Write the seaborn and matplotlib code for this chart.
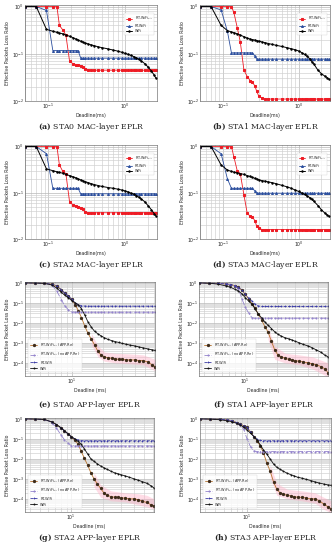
import matplotlib
matplotlib.use("Agg")
import matplotlib.pyplot as plt
import seaborn as sns
from matplotlib.ticker import NullFormatter, LogLocator

# ---------------- MAC-layer data (panels a-d) ----------------
mac_deadline = [0.05, 0.07, 0.095, 0.115, 0.13, 0.14, 0.155, 0.17, 0.19, 0.21,
                0.23, 0.245, 0.265, 0.28, 0.3, 0.33, 0.36, 0.4, 0.45, 0.5,
                0.6, 0.7, 0.8, 0.9, 1.0, 1.1, 1.2, 1.3, 1.4, 1.5,
                1.6, 1.8, 2.0, 2.2, 2.4, 2.5]

sta0_mac_rt_sa = [1, 1, 1, 1, 1, 0.40, 0.32, 0.25, 0.069, 0.062,
                  0.059, 0.059, 0.056, 0.053, 0.048, 0.046, 0.045, 0.045, 0.045, 0.045,
                  0.045, 0.045, 0.045, 0.045, 0.045, 0.045, 0.045, 0.045, 0.045, 0.045,
                  0.045, 0.045, 0.045, 0.045, 0.045, 0.045]
sta0_mac_rt = [1, 1, 0.83, 0.117, 0.117, 0.117, 0.117, 0.117, 0.117, 0.117,
               0.117, 0.117, 0.081, 0.081, 0.081, 0.081, 0.081, 0.081, 0.081, 0.081,
               0.081, 0.081, 0.081, 0.081, 0.081, 0.081, 0.081, 0.081, 0.081, 0.081,
               0.081, 0.081, 0.081, 0.081, 0.081, 0.081]
sta0_mac_wifi = [1, 1, 0.33, 0.30, 0.285, 0.275, 0.265, 0.25, 0.235, 0.22,
                 0.205, 0.195, 0.185, 0.178, 0.17, 0.162, 0.155, 0.148, 0.14, 0.135,
                 0.127, 0.12, 0.114, 0.108, 0.102, 0.097, 0.092, 0.087, 0.082, 0.077,
                 0.072, 0.062, 0.052, 0.043, 0.035, 0.031]

sta1_mac_rt_sa = [1, 1, 1, 1, 1, 0.75, 0.36, 0.18, 0.045, 0.033,
                  0.027, 0.025, 0.021, 0.016, 0.0125, 0.0115, 0.011, 0.011, 0.011, 0.011,
                  0.011, 0.011, 0.011, 0.011, 0.011, 0.011, 0.011, 0.011, 0.011, 0.011,
                  0.011, 0.011, 0.011, 0.011, 0.011, 0.011]
sta1_mac_rt = [1, 1, 0.85, 0.3, 0.105, 0.105, 0.105, 0.105, 0.105, 0.105,
               0.105, 0.105, 0.09, 0.077, 0.077, 0.077, 0.077, 0.077, 0.077, 0.077,
               0.077, 0.077, 0.077, 0.077, 0.077, 0.077, 0.077, 0.077, 0.077, 0.077,
               0.077, 0.077, 0.077, 0.077, 0.077, 0.077]
sta1_mac_wifi = [1, 1, 0.4, 0.31, 0.29, 0.28, 0.265, 0.25, 0.23, 0.215,
                 0.205, 0.2, 0.195, 0.19, 0.185, 0.178, 0.172, 0.165, 0.158, 0.152,
                 0.143, 0.135, 0.128, 0.122, 0.115, 0.106, 0.097, 0.088, 0.079, 0.068,
                 0.06, 0.045, 0.038, 0.034, 0.031, 0.029]

sta2_mac_rt_sa = [1, 1, 1, 1, 1, 0.4, 0.29, 0.26, 0.063, 0.055,
                  0.052, 0.05, 0.048, 0.044, 0.039, 0.037, 0.037, 0.037, 0.037, 0.037,
                  0.037, 0.037, 0.037, 0.037, 0.037, 0.037, 0.037, 0.037, 0.037, 0.037,
                  0.037, 0.037, 0.037, 0.037, 0.037, 0.037]
sta2_mac_rt = [1, 1, 0.7, 0.125, 0.125, 0.125, 0.125, 0.125, 0.125, 0.125,
               0.125, 0.125, 0.095, 0.095, 0.095, 0.095, 0.095, 0.095, 0.095, 0.095,
               0.095, 0.095, 0.095, 0.095, 0.095, 0.095, 0.095, 0.095, 0.095, 0.095,
               0.095, 0.095, 0.095, 0.095, 0.095, 0.095]
sta2_mac_wifi = [1, 1, 0.33, 0.30, 0.285, 0.275, 0.265, 0.25, 0.235, 0.222,
                 0.21, 0.2, 0.19, 0.183, 0.175, 0.166, 0.158, 0.15, 0.143, 0.137,
                 0.13, 0.125, 0.12, 0.115, 0.11, 0.104, 0.098, 0.093, 0.087, 0.081,
                 0.075, 0.064, 0.052, 0.043, 0.035, 0.032]

sta3_mac_rt_sa = [1, 1, 1, 1, 1, 0.6, 0.3, 0.26, 0.09, 0.036,
                  0.031, 0.03, 0.025, 0.019, 0.017, 0.016, 0.016, 0.016, 0.016, 0.016,
                  0.016, 0.016, 0.016, 0.016, 0.016, 0.016, 0.016, 0.016, 0.016, 0.016,
                  0.016, 0.016, 0.016, 0.016, 0.016, 0.016]
sta3_mac_rt = [1, 1, 0.7, 0.2, 0.125, 0.125, 0.125, 0.125, 0.125, 0.125,
               0.125, 0.125, 0.11, 0.098, 0.098, 0.098, 0.098, 0.098, 0.098, 0.098,
               0.098, 0.098, 0.098, 0.098, 0.098, 0.098, 0.098, 0.098, 0.098, 0.098,
               0.098, 0.098, 0.098, 0.098, 0.098, 0.098]
sta3_mac_wifi = [1, 1, 0.4, 0.31, 0.29, 0.28, 0.27, 0.26, 0.25, 0.235,
                 0.225, 0.215, 0.205, 0.198, 0.19, 0.183, 0.178, 0.172, 0.165, 0.158,
                 0.145, 0.135, 0.125, 0.115, 0.107, 0.099, 0.092, 0.085, 0.079, 0.072,
                 0.065, 0.053, 0.043, 0.037, 0.033, 0.031]

# ---------------- APP-layer data (panels e-h) ----------------
app_deadline = [3.6, 4.5, 5.5, 6.5, 7.2, 8.0, 8.6, 9.3, 10.0, 10.8,
                11.6, 12.4, 13.3, 14.3, 15.4, 16.5, 17.8, 19.1, 20.5, 22,
                24, 26, 28, 30, 33, 36, 40, 44, 48, 53, 58, 62]

sta0_app_re = [1, 0.98, 0.95, 0.85, 0.7, 0.45, 0.3, 0.22, 0.15, 0.08,
               0.04, 0.018, 0.007, 0.003, 0.0015, 0.0008, 0.00037, 0.00024, 0.0002, 0.00018,
               0.00017, 0.00016, 0.00015, 0.00015, 0.00014, 0.00014, 0.00014, 0.00013, 0.00013, 0.00011,
               0.00008, 0.000065]
sta0_app_nore = [1, 0.98, 0.95, 0.75, 0.4, 0.14, 0.07, 0.045, 0.036, 0.034,
                 0.034, 0.034, 0.034, 0.034, 0.034, 0.034, 0.034, 0.034, 0.034, 0.034,
                 0.034, 0.034, 0.034, 0.034, 0.034, 0.034, 0.034, 0.034, 0.034, 0.034,
                 0.034, 0.034]
sta0_app_rt = [1, 0.98, 0.95, 0.85, 0.7, 0.45, 0.3, 0.22, 0.15, 0.1,
               0.08, 0.072, 0.069, 0.068, 0.068, 0.068, 0.068, 0.068, 0.068, 0.068,
               0.068, 0.068, 0.068, 0.068, 0.068, 0.068, 0.068, 0.068, 0.068, 0.068,
               0.068, 0.068]
sta0_app_wifi = [1, 0.98, 0.94, 0.78, 0.55, 0.33, 0.24, 0.18, 0.13, 0.1,
                 0.08, 0.05, 0.025, 0.011, 0.006, 0.0038, 0.0028, 0.0022, 0.0018, 0.0015,
                 0.0013, 0.00115, 0.00105, 0.00095, 0.00085, 0.00077, 0.0007, 0.00062, 0.00056, 0.0005,
                 0.00045, 0.00042]
sta0_band_x = [15.4, 17.8, 20.5, 26, 36, 48, 62]
sta0_band_lo = [0.0008, 0.0002, 0.00012, 0.0001, 0.00009, 0.00008, 0.00004]
sta0_band_hi = [0.003, 0.0007, 0.00035, 0.0003, 0.00028, 0.00025, 0.00015]

sta1_app_re = [1, 0.97, 0.93, 0.88, 0.82, 0.72, 0.6, 0.42, 0.27, 0.15,
               0.09, 0.055, 0.028, 0.014, 0.0065, 0.0035, 0.0012, 0.00045, 0.00025, 0.0002,
               0.00017, 0.00015, 0.00014, 0.00013, 0.00012, 0.00011, 0.0001, 0.00009, 0.00008, 0.000065,
               0.00005, 0.000032]
sta1_app_nore = [1, 0.97, 0.93, 0.88, 0.82, 0.7, 0.5, 0.15, 0.06, 0.03,
                 0.018, 0.017, 0.017, 0.017, 0.017, 0.017, 0.017, 0.017, 0.017, 0.017,
                 0.017, 0.017, 0.017, 0.017, 0.017, 0.017, 0.017, 0.017, 0.017, 0.017,
                 0.017, 0.017]
sta1_app_rt = [1, 0.97, 0.93, 0.88, 0.82, 0.72, 0.6, 0.42, 0.27, 0.17,
               0.12, 0.085, 0.07, 0.066, 0.066, 0.066, 0.066, 0.066, 0.066, 0.066,
               0.066, 0.066, 0.066, 0.066, 0.066, 0.066, 0.066, 0.066, 0.066, 0.066,
               0.066, 0.066]
sta1_app_wifi = [1, 0.95, 0.86, 0.7, 0.6, 0.47, 0.39, 0.28, 0.18, 0.12,
                 0.086, 0.05, 0.028, 0.018, 0.011, 0.0075, 0.0052, 0.0036, 0.0027, 0.0022,
                 0.0018, 0.0016, 0.0014, 0.0012, 0.001, 0.00083, 0.0007, 0.00056, 0.00044, 0.00034,
                 0.00024, 0.0002]
sta1_band_x = [16.5, 19.1, 24, 33, 44, 62]
sta1_band_lo = [0.0015, 0.00015, 0.0001, 0.00008, 0.00005, 0.00002]
sta1_band_hi = [0.006, 0.0007, 0.0003, 0.00025, 0.0002, 0.0001]

sta2_app_re = [1, 0.98, 0.93, 0.7, 0.52, 0.35, 0.25, 0.18, 0.126, 0.085,
               0.055, 0.025, 0.011, 0.005, 0.002, 0.001, 0.00055, 0.00033, 0.0002, 0.00015,
               0.00013, 0.00012, 0.00012, 0.00011, 0.00011, 0.0001, 0.0001, 0.00009, 0.000075, 0.000066,
               0.00005, 0.000045]
sta2_app_nore = [1, 0.98, 0.93, 0.65, 0.35, 0.15, 0.09, 0.06, 0.046, 0.044,
                 0.044, 0.044, 0.044, 0.044, 0.044, 0.044, 0.044, 0.044, 0.044, 0.044,
                 0.044, 0.044, 0.044, 0.044, 0.044, 0.044, 0.044, 0.044, 0.044, 0.044,
                 0.044, 0.044]
sta2_app_rt = [1, 0.98, 0.93, 0.7, 0.52, 0.35, 0.25, 0.18, 0.126, 0.1,
               0.088, 0.082, 0.08, 0.08, 0.08, 0.08, 0.08, 0.08, 0.08, 0.08,
               0.08, 0.08, 0.08, 0.08, 0.08, 0.08, 0.08, 0.08, 0.08, 0.08,
               0.08, 0.08]
sta2_app_wifi = [1, 0.98, 0.93, 0.7, 0.52, 0.35, 0.25, 0.18, 0.126, 0.1,
                 0.075, 0.055, 0.032, 0.018, 0.01, 0.0075, 0.0056, 0.0044, 0.0036, 0.003,
                 0.0024, 0.002, 0.0018, 0.0016, 0.0014, 0.0012, 0.001, 0.00085, 0.00072, 0.0006,
                 0.00045, 0.00035]
sta2_band_x = [16.5, 19.1, 24, 33, 44, 53, 62]
sta2_band_lo = [0.0004, 0.00012, 0.00008, 0.00007, 0.00005, 0.00004, 0.00003]
sta2_band_hi = [0.002, 0.0005, 0.00025, 0.0002, 0.00018, 0.00015, 0.0001]

sta3_app_re = [1, 0.98, 0.95, 0.88, 0.8, 0.64, 0.55, 0.45, 0.37, 0.22,
               0.13, 0.08, 0.045, 0.02, 0.006, 0.0025, 0.0007, 0.0003, 0.0002, 0.00017,
               0.00015, 0.00014, 0.00013, 0.00012, 0.00012, 0.00011, 0.0001, 0.0001, 0.00008, 0.000055,
               0.00004, 0.000032]
sta3_app_nore = [1, 0.98, 0.95, 0.88, 0.8, 0.64, 0.5, 0.3, 0.1, 0.04,
                 0.025, 0.023, 0.023, 0.023, 0.023, 0.023, 0.023, 0.023, 0.023, 0.023,
                 0.023, 0.023, 0.023, 0.023, 0.023, 0.023, 0.023, 0.023, 0.023, 0.023,
                 0.023, 0.023]
sta3_app_rt = [1, 0.98, 0.95, 0.88, 0.8, 0.64, 0.55, 0.45, 0.37, 0.22,
               0.13, 0.095, 0.083, 0.08, 0.08, 0.08, 0.08, 0.08, 0.08, 0.08,
               0.08, 0.08, 0.08, 0.08, 0.08, 0.08, 0.08, 0.08, 0.08, 0.08,
               0.08, 0.08]
sta3_app_wifi = [1, 0.97, 0.9, 0.8, 0.72, 0.6, 0.5, 0.38, 0.28, 0.19,
                 0.13, 0.09, 0.05, 0.028, 0.017, 0.01, 0.0055, 0.0038, 0.003, 0.0024,
                 0.0019, 0.0016, 0.0014, 0.0012, 0.00108, 0.00095, 0.00082, 0.0007, 0.00062, 0.00055,
                 0.0005, 0.00048]
sta3_band_x = [16.5, 19.1, 24, 33, 44, 53, 62]
sta3_band_lo = [0.0012, 0.00015, 0.0001, 0.00008, 0.00006, 0.00003, 0.00002]
sta3_band_hi = [0.005, 0.0006, 0.0003, 0.00025, 0.0002, 0.00012, 0.00008]

mac_captions = ["(a)", "(b)", "(c)", "(d)"]
app_captions = ["(e)", "(f)", "(g)", "(h)"]

sns.set_theme(style="whitegrid")
plt.rcParams['font.family'] = ['DejaVu Sans']

W, H = 336, 550
fig = plt.figure(figsize=(W / 100, H / 100), dpi=100)


def px_axes(l, t, r, b):
    return fig.add_axes([l / W, 1 - b / H, (r - l) / W, (b - t) / H])


def style_axes(ax):
    ax.set_xscale('log')
    ax.set_yscale('log')
    for axis in (ax.xaxis, ax.yaxis):
        axis.set_major_locator(LogLocator(base=10, numticks=12))
        axis.set_minor_locator(LogLocator(base=10, subs=range(2, 10), numticks=12))
        axis.set_minor_formatter(NullFormatter())
    ax.tick_params(which='both', labelsize=3.3, length=0, pad=0.6)
    ax.grid(True, which='major', color='#b8b8b8', lw=0.5)
    ax.grid(True, which='minor', color='#cfcfcf', lw=0.45)
    ax.set_axisbelow(True)
    for s in ax.spines.values():
        s.set_color('#555555')
        s.set_linewidth(0.4)


def caption(xc, yc, tag, text):
    fig.text(xc / W, 1 - yc / H, r"$\mathbf{" + tag + "}$ " + text,
             ha='center', va='center', fontsize=5.6, family='DejaVu Serif',
             math_fontfamily='dejavuserif')


mac_boxes = [(25, 5, 157, 101), (200, 5, 330, 101),
             (25, 145, 157, 239), (200, 145, 330, 239)]
mac_series = [(sta0_mac_rt_sa, sta0_mac_rt, sta0_mac_wifi),
              (sta1_mac_rt_sa, sta1_mac_rt, sta1_mac_wifi),
              (sta2_mac_rt_sa, sta2_mac_rt, sta2_mac_wifi),
              (sta3_mac_rt_sa, sta3_mac_rt, sta3_mac_wifi)]
mac_cap_y = [127, 127, 265, 265]

for i, (box, (sa, rt, wf)) in enumerate(zip(mac_boxes, mac_series)):
    ax = px_axes(*box)
    style_axes(ax)
    sns.lineplot(x=mac_deadline, y=sa, ax=ax, label=r"RT-WiFi$_{SA}$", color='#ee1c25',
                 marker='s', markersize=1.6, markeredgecolor='#ee1c25', linewidth=0.6,
                 errorbar=None)
    sns.lineplot(x=mac_deadline, y=rt, ax=ax, label="RT-WiFi", color='#2c4f9e',
                 marker='^', markersize=1.4, markeredgecolor='#2c4f9e', linewidth=0.6,
                 errorbar=None)
    sns.lineplot(x=mac_deadline, y=wf, ax=ax, label="WiFi", color='black',
                 marker='o', markersize=1.0, markeredgecolor='black', linewidth=0.7,
                 errorbar=None)
    ax.set_xlim(0.05, 2.6)
    ax.set_ylim(0.01, 1.08)
    ax.set_xlabel("Deadline(ms)", fontsize=3.3, labelpad=1)
    ax.set_ylabel("Effective Packets Loss Ratio", fontsize=3.3, labelpad=1.5)
    leg = ax.legend(loc='upper right', fontsize=2.4, frameon=True, handlelength=2.0,
                    borderpad=0.4, labelspacing=0.45, bbox_to_anchor=(0.99, 0.93),
                    edgecolor='#cccccc', fancybox=False)
    leg.get_frame().set_linewidth(0.3)
    xc = (box[0] + box[2]) / 2
    caption(xc, mac_cap_y[i], mac_captions[i], "STA%d MAC-layer EPLR" % i)

app_boxes = [(25, 282, 155, 376), (199, 282, 328, 376),
             (25, 418, 154, 512), (200, 418, 331, 512)]
app_series = [(sta0_app_re, sta0_app_nore, sta0_app_rt, sta0_app_wifi, sta0_band_x, sta0_band_lo, sta0_band_hi),
              (sta1_app_re, sta1_app_nore, sta1_app_rt, sta1_app_wifi, sta1_band_x, sta1_band_lo, sta1_band_hi),
              (sta2_app_re, sta2_app_nore, sta2_app_rt, sta2_app_wifi, sta2_band_x, sta2_band_lo, sta2_band_hi),
              (sta3_app_re, sta3_app_nore, sta3_app_rt, sta3_app_wifi, sta3_band_x, sta3_band_lo, sta3_band_hi)]
app_cap_y = [405, 405, 538, 538]

for i, (box, (re_, nore, rt, wf, bx, blo, bhi)) in enumerate(zip(app_boxes, app_series)):
    ax = px_axes(*box)
    style_axes(ax)
    ax.fill_between(bx, blo, bhi, color='#ffb3c8', alpha=0.45, lw=0)
    sns.lineplot(x=app_deadline, y=re_, ax=ax, label=r"RT-WiFi$_{SA}$ (APP-Re)", color='#b8732e',
                 marker='o', markersize=1.6, markeredgecolor='#3d2b1a', markerfacecolor='#3d2b1a',
                 linewidth=0.6, errorbar=None)
    sns.lineplot(x=app_deadline, y=nore, ax=ax, label=r"RT-WiFi$_{SA}$ (no APP-Re)", color='#9484cc',
                 marker='.', markersize=1.5, markeredgecolor='#9484cc', linewidth=0.6,
                 linestyle='-.', errorbar=None)
    sns.lineplot(x=app_deadline, y=rt, ax=ax, label="RT-WiFi", color='#3b3ba6',
                 marker='+', markersize=1.8, markeredgecolor='#3b3ba6', markeredgewidth=0.5,
                 linewidth=0.6, linestyle='--', errorbar=None)
    sns.lineplot(x=app_deadline, y=wf, ax=ax, label="WiFi", color='#111111',
                 marker='.', markersize=1.3, markeredgecolor='#111111', linewidth=0.6,
                 errorbar=None)
    ax.set_xlim(3.6, 62)
    ax.set_ylim(2.2e-5, 1.1)
    ax.set_xlabel("Deadline (ms)", fontsize=3.3, labelpad=1)
    ax.set_ylabel("Effective Packet Loss Ratio", fontsize=3.3, labelpad=1.5)
    leg = ax.legend(loc='lower left', fontsize=2.5, frameon=True, handlelength=2.2,
                    borderpad=0.5, labelspacing=0.6, bbox_to_anchor=(0.01, 0.02),
                    edgecolor='#cccccc', fancybox=False)
    leg.get_frame().set_linewidth(0.3)
    xc = (box[0] + box[2]) / 2
    caption(xc, app_cap_y[i], app_captions[i], "STA%d APP-layer EPLR" % i)

fig.savefig("out.png", dpi=100)
